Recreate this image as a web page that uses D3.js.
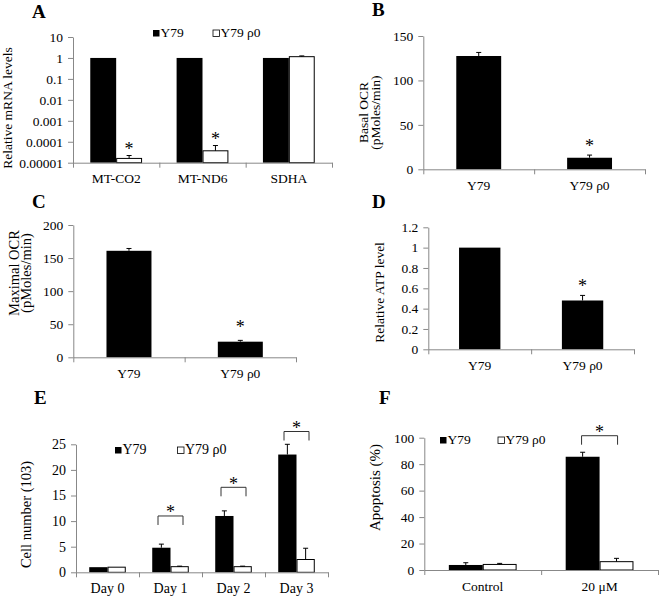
<!DOCTYPE html>
<html><head><meta charset="utf-8">
<script src="https://cdn.jsdelivr.net/npm/d3@7"></script>
<style>body{margin:0;background:#fff}</style>
</head><body>
<script>
// ---------- DATA ----------
const seriesNames = ["Y79", "Y79 ρ0"];

const aCategories = ["MT-CO2", "MT-ND6", "SDHA"];
const aY79 = [1, 1, 1];
const aY79Err = [0, 0, 0];
const aR0 = [1.6e-5, 3.7e-5, 1.15];
const aR0Err = [0.6e-5, 2.9e-5, 0.1];
const aTicks = [1e-5, 1e-4, 1e-3, 1e-2, 1e-1, 1, 10];
const aTickLabels = ["0.00001", "0.0001", "0.001", "0.01", "0.1", "1", "10"];

const bCategories = ["Y79", "Y79 ρ0"];
const bValues = [127.5, 13];
const bErr = [4, 3];
const bTicks = [0, 50, 100, 150];

const cCategories = ["Y79", "Y79 ρ0"];
const cValues = [161, 23.6];
const cErr = [3.5, 2];
const cTicks = [0, 50, 100, 150, 200];

const dCategories = ["Y79", "Y79 ρ0"];
const dValues = [1, 0.48];
const dErr = [0, 0.05];
const dTicks = [0, 0.2, 0.4, 0.6, 0.8, 1, 1.2];

const eCategories = ["Day 0", "Day 1", "Day 2", "Day 3"];
const eY79 = [1, 4.8, 11, 23];
const eY79Err = [0, 0.7, 1, 2];
const eR0 = [1, 1.1, 1.1, 2.5];
const eR0Err = [0, 0.1, 0.1, 2.2];
const eBracket = [null, 11, 16.6, 27.5];
const eTicks = [0, 5, 10, 15, 20, 25];

const fCategories = ["Control", "20 μM"];
const fY79 = [3.8, 85.6];
const fY79Err = [1.7, 3.4];
const fR0 = [4.2, 6.3];
const fR0Err = [0.8, 2.5];
const fBracket = [null, 101.5];
const fTicks = [0, 20, 40, 60, 80, 100];

// ---------- DRAWING ----------
const FONT = "Liberation Serif, Times New Roman, serif";
const AXIS = "#888";
const svg = d3.select("body").append("svg").attr("width", 660).attr("height", 598)
  .attr("font-family", FONT);

function panel(o) {
  const g = svg.append("g");
  const x = d3.scaleBand().domain(o.categories).range(o.xr);
  const y = (o.log ? d3.scaleLog() : d3.scaleLinear()).domain(o.yd).range(o.yr);
  const y0 = o.yr[0];
  const bw = o.barFrac * x.bandwidth();
  const ns = o.series.length;

  // bars
  o.series.forEach((s, si) => {
    const bx = c => x(c) + x.bandwidth() / 2 - ns * bw / 2 + si * bw;
    g.append("g").selectAll("rect").data(o.categories).join("rect")
      .attr("x", (c) => bx(c) + (s.white ? 0.5 : 0))
      .attr("width", bw - (s.white ? 1 : 0))
      .attr("y", (c, i) => y(s.values[i]))
      .attr("height", (c, i) => y0 - y(s.values[i]))
      .attr("fill", s.white ? "#fff" : "#000")
      .attr("stroke", s.white ? "#000" : "none")
      .attr("stroke-width", 1);
    // error bars
    const eg = g.append("g").attr("stroke", "#000").attr("stroke-width", 1);
    o.categories.forEach((c, i) => {
      const e = s.errors[i];
      if (!e) return;
      const cx = bx(c) + bw / 2;
      const yt = y(s.values[i] + e);
      eg.append("line").attr("x1", cx).attr("x2", cx).attr("y1", y(s.values[i])).attr("y2", yt);
      eg.append("line").attr("x1", cx - 2.5).attr("x2", cx + 2.5).attr("y1", yt).attr("y2", yt);
    });
    // asterisks
    (s.stars || []).forEach(i => {
      const c = o.categories[i];
      const cx = bx(c) + bw / 2;
      const yt = y(s.values[i] + s.errors[i]);
      g.append("text").attr("x", cx).attr("y", yt - o.starGap + 8.5)
        .attr("text-anchor", "middle").attr("font-size", 18).text("*");
    });
  });

  // brackets
  if (o.brackets) {
    const bg = g.append("g").attr("stroke", "#333").attr("fill", "none").attr("stroke-width", 1);
    o.categories.forEach((c, i) => {
      const v = o.brackets[i];
      if (v == null) return;
      const cx = x(c) + x.bandwidth() / 2;
      const hw = o.bracketHalf;
      const yt = y(v);
      bg.append("path").attr("d", `M${cx - hw},${yt + 9}V${yt}H${cx + hw}V${yt + 9}`);
      g.append("text").attr("x", cx).attr("y", yt - 6 + 8.5)
        .attr("text-anchor", "middle").attr("font-size", 18).text("*");
    });
  }

  // y axis
  const ya = d3.axisLeft(y).tickValues(o.ticks)
    .tickFormat((d, i) => o.tickLabels ? o.tickLabels[i] : d)
    .tickSize(5).tickPadding(5).tickSizeOuter(0);
  const yg = g.append("g").attr("transform", `translate(${o.xr[0]},0)`).call(ya)
    .attr("font-family", FONT);
  yg.selectAll("path,line").attr("stroke", AXIS);
  yg.selectAll("text").attr("font-size", o.tfs || 13.5).attr("fill", "#000");

  // x axis line with boundary ticks
  const xb = d3.scaleLinear().domain([0, o.categories.length]).range(o.xr);
  const xg = g.append("g").attr("transform", `translate(0,${y0})`)
    .call(d3.axisBottom(xb).tickValues(d3.range(o.categories.length + 1)).tickFormat("").tickSize(5).tickSizeOuter(0));
  xg.selectAll("path,line").attr("stroke", AXIS);
  // category labels
  const lg = g.append("g").attr("transform", `translate(0,${y0})`)
    .call(d3.axisBottom(x).tickSize(0)).attr("font-family", FONT);
  lg.select(".domain").remove();
  lg.selectAll("text").attr("y", 20.5).attr("dy", null)
    .attr("font-size", o.xfs || 13.5).attr("fill", "#000");

  // y label
  o.ylabel.forEach(l => {
    g.append("text").attr("transform", `translate(${l.x},${o.ylabelY}) rotate(-90)`)
      .attr("text-anchor", "middle").attr("font-size", o.lfs || 13.5).text(l.t);
  });

  // panel letter
  g.append("text").attr("x", o.letter[0]).attr("y", o.letter[1])
    .attr("font-size", 19).attr("font-weight", "bold").text(o.letter[2]);

  // legend
  if (o.legend) {
    o.legend.forEach((L, i) => {
      g.append("rect").attr("x", L.x + 0.5).attr("y", L.y - 7).attr("width", 6.5).attr("height", 6.5)
        .attr("fill", i === 0 ? "#000" : "#fff").attr("stroke", "#000").attr("stroke-width", i === 0 ? 0 : 0.8);
      g.append("text").attr("x", L.x + 8).attr("y", L.y).attr("font-size", o.gfs || 13.5).text(seriesNames[i]);
    });
  }
}

// A
panel({
  categories: aCategories, xr: [73, 332], log: true, yd: [1e-5, 10], yr: [162.7, 37],
  ticks: aTicks, tickLabels: aTickLabels, barFrac: 0.3, starGap: 9,
  series: [{values: aY79, errors: aY79Err}, {values: aR0, errors: aR0Err, white: true, stars: [0, 1]}],
  ylabel: [{x: 12, t: "Relative mRNA levels"}], ylabelY: 108,
  letter: [32, 18, "A"],
  legend: [{x: 152.5, y: 37}, {x: 212.5, y: 37}]
});
// B
panel({
  categories: bCategories, xr: [423.3, 645], yd: [0, 150], yr: [169.3, 36],
  ticks: bTicks, barFrac: 0.405, starGap: 11.7,
  series: [{values: bValues, errors: bErr, stars: [1]}],
  ylabel: [{x: 368, t: "Basal OCR"}, {x: 380, t: "(pMoles/min)"}], ylabelY: 112.5,
  letter: [372, 16, "B"]
});
// C
panel({
  categories: cCategories, xr: [73.3, 296], yd: [0, 200], yr: [357.3, 225],
  ticks: cTicks, barFrac: 0.404, starGap: 16,
  series: [{values: cValues, errors: cErr, stars: [1]}],
  ylabel: [{x: 18.5, t: "Maximal OCR"}, {x: 31, t: "(pMoles/min)"}], ylabelY: 273, lfs: 14.5,
  letter: [32, 208, "C"]
});
// D
panel({
  categories: dCategories, xr: [428.3, 634], yd: [0, 1.2], yr: [349.3, 227.3],
  ticks: dTicks, barFrac: 0.402, starGap: 12,
  series: [{values: dValues, errors: dErr, stars: [1]}],
  ylabel: [{x: 383.5, t: "Relative ATP level"}], ylabelY: 292.5,
  letter: [372, 208, "D"]
});
// E
panel({
  categories: eCategories, xr: [76, 328], yd: [0, 25], yr: [572.3, 444.3],
  ticks: eTicks, barFrac: 0.29, starGap: 10, tfs: 14, xfs: 14, gfs: 14,
  series: [{values: eY79, errors: eY79Err}, {values: eR0, errors: eR0Err, white: true}],
  brackets: eBracket, bracketHalf: 12.5,
  ylabel: [{x: 31, t: "Cell number (103)"}], ylabelY: 514.5, lfs: 14.5,
  letter: [34, 404, "E"],
  legend: [{x: 114.5, y: 454}, {x: 177, y: 454}]
});
// F
panel({
  categories: fCategories, xr: [424.3, 658], yd: [0, 100], yr: [570, 437.7],
  ticks: fTicks, barFrac: 0.29, starGap: 10,
  series: [{values: fY79, errors: fY79Err}, {values: fR0, errors: fR0Err, white: true}],
  brackets: fBracket, bracketHalf: 18,
  ylabel: [{x: 380, t: "Apoptosis (%)"}], ylabelY: 487.5, lfs: 15,
  letter: [379, 404, "F"],
  legend: [{x: 439.5, y: 444}, {x: 497.5, y: 444}]
});
</script>
</body></html>
